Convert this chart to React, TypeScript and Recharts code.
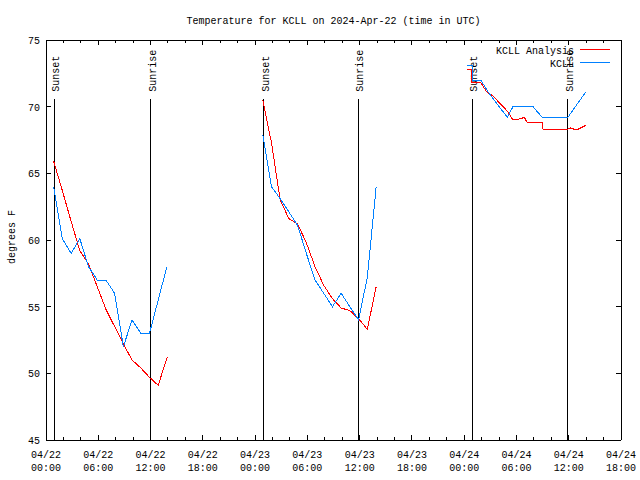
import React from 'react';
import { LineChart, Line, XAxis, YAxis, ReferenceLine, Legend } from 'recharts';

const FONT = '"Liberation Mono", "DejaVu Sans Mono", monospace';

const chartTitle = 'Temperature for KCLL on 2024-Apr-22 (time in UTC)';
const yAxisTitle = 'degrees F';
const seriesNames = ['KCLL Analysis', 'KCLL'];
const seriesColors = ['#ff0000', '#0080ff'];

// x values are hours since 2024-04-22 00:00 UTC
const xDomain = [0, 66];
const xMinorTicks = [0, 2, 4, 6, 8, 10, 12, 14, 16, 18, 20, 22, 24, 26, 28, 30, 32, 34, 36, 38, 40, 42, 44, 46, 48, 50, 52, 54, 56, 58, 60, 62, 64, 66];
const xTickDates = ['04/22', '04/22', '04/22', '04/22', '04/23', '04/23', '04/23', '04/23', '04/24', '04/24', '04/24', '04/24'];
const xTickTimes = ['00:00', '06:00', '12:00', '18:00', '00:00', '06:00', '12:00', '18:00', '00:00', '06:00', '12:00', '18:00'];
const yDomain = [45, 75];
const yTicks = [45, 50, 55, 60, 65, 70, 75];

const sunTimes = [0.92, 12.02, 24.99, 35.85, 48.93, 59.88];
const sunLabels = ['Sunset', 'Sunrise', 'Sunset', 'Sunrise', 'Sunset', 'Sunrise'];
const sunLineTop = 70.6;

const analysisTimes = [
  0.88, 1.88, 2.88, 3.88, 4.88, 5.88, 6.88, 7.88, 8.88, 9.88, 10.88, 11.88, 12.88, 13.9,
  19,
  24.88, 25.88, 26.88, 27.88, 28.88, 29.88, 30.88, 31.88, 32.88, 33.88, 34.88, 35.88, 36.88, 37.9,
  43,
  48.35, 48.8, 48.9, 49.9, 50.6, 51.3, 53.05, 53.6, 54.5, 54.9, 55.2, 56.95, 57.05, 59.6, 60.2, 60.9, 61.95,
];
const analysisTemps = [
  65.9, 63.7, 61.4, 59.2, 58.2, 56.5, 54.8, 53.5, 52.2, 51.0, 50.4, 49.7, 49.1, 51.2,
  null,
  70.5, 67.3, 63.0, 61.6, 61.2, 59.8, 58.0, 56.6, 55.6, 54.9, 54.7, 54.1, 53.3, 56.5,
  null,
  72.8, 72.8, 71.8, 71.8, 71.1, 70.8, 69.6, 69.0, 69.1, 69.2, 68.85, 68.85, 68.3, 68.25, 68.4, 68.25, 68.6,
];

const obsTimes = [
  0.88, 1.88, 2.88, 3.88, 4.88, 5.88, 6.88, 7.88, 8.88, 9.88, 10.88, 11.88, 12.88, 13.88,
  19,
  24.88, 25.88, 26.88, 27.88, 28.88, 29.88, 30.88, 31.88, 32.88, 33.88, 34.88, 35.88, 36.88, 37.9,
  43,
  48.35, 48.9, 49.0, 49.9, 50.75, 51.15, 52.95, 53.6, 55.9, 56.95, 59.9, 61.95,
];
const obsTemps = [
  64.0, 60.1, 59.0, 60.1, 58.0, 57.0, 57.0, 56.0, 52.0, 54.0, 53.0, 53.0, 55.5, 58.0,
  null,
  67.9, 64.0, 63.1, 62.1, 61.1, 59.0, 57.0, 56.0, 55.0, 56.0, 55.0, 54.0, 57.2, 64.0,
  null,
  73.1, 73.1, 72.0, 72.0, 71.1, 70.75, 69.2, 70.0, 70.0, 69.2, 69.2, 71.1,
];

const analysisData = analysisTimes.map((t, i) => ({ t, v: analysisTemps[i] }));
const obsData = obsTimes.map((t, i) => ({ t, v: obsTemps[i] }));

const MAJOR = 5;
const MINOR = 3;

const BottomTick = (props: any) => {
  const { x, y, payload } = props;
  const v = payload.value;
  const major = v % 6 === 0;
  const idx = v / 6;
  return (
    <g>
      <line x1={x} y1={y} x2={x} y2={y - (major ? MAJOR : MINOR)} stroke="#000" shapeRendering="crispEdges" />
      {major && (
        <text x={x} y={y + 18} textAnchor="middle" fontFamily={FONT} fontSize={10} fill="#000">
          {xTickDates[idx]}
        </text>
      )}
      {major && (
        <text x={x} y={y + 31} textAnchor="middle" fontFamily={FONT} fontSize={10} fill="#000">
          {xTickTimes[idx]}
        </text>
      )}
    </g>
  );
};

const TopTick = (props: any) => {
  const { x, y, payload } = props;
  const major = payload.value % 6 === 0;
  return <line x1={x} y1={y} x2={x} y2={y + (major ? MAJOR : MINOR)} stroke="#000" shapeRendering="crispEdges" />;
};

const LeftTick = (props: any) => {
  const { x, y, payload } = props;
  return (
    <g>
      <line x1={x} y1={y} x2={x + MAJOR} y2={y} stroke="#000" shapeRendering="crispEdges" />
      <text x={x - 6} y={y + 4} textAnchor="end" fontFamily={FONT} fontSize={10} fill="#000">
        {payload.value}
      </text>
    </g>
  );
};

const RightTick = (props: any) => {
  const { x, y } = props;
  return <line x1={x} y1={y} x2={x - MAJOR} y2={y} stroke="#000" shapeRendering="crispEdges" />;
};

const sunLabel = (text: string) => (props: any) => {
  const vb = props.viewBox || {};
  const lx = (vb.x ?? 0) + 5;
  const ly = (vb.y ?? 0) - 7;
  return (
    <text x={lx} y={ly} transform={`rotate(-90 ${lx} ${ly})`} textAnchor="start" fontFamily={FONT} fontSize={10} fill="#000">
      {text}
    </text>
  );
};

const renderLegend = (props: any) => {
  const items = props.payload || [];
  const ordered = seriesNames
    .map((name) => items.find((it: any) => it.value === name))
    .filter(Boolean);
  return (
    <svg width={150} height={32} style={{ display: 'block', overflow: 'visible' }}>
      {ordered.map((it: any, i: number) => (
        <g key={i}>
          <text x={104} y={15.5 + 13 * i} textAnchor="end" fontFamily={FONT} fontSize={10} fill="#000">
            {it.value}
          </text>
          <line x1={110} x2={140} y1={11.5 + 13 * i} y2={11.5 + 13 * i} stroke={it.color} shapeRendering="crispEdges" />
        </g>
      ))}
    </svg>
  );
};

const axisLineStyle = { stroke: '#000', shapeRendering: 'crispEdges' } as any;

export default function App() {
  return (
    <div style={{ position: 'absolute', left: 0, top: 0, width: 640, height: 480, background: '#fff' }}>
      <LineChart width={640} height={480} margin={{ top: 39, right: 18, bottom: 39, left: 45 }}>
        <XAxis
          xAxisId="b"
          orientation="bottom"
          type="number"
          dataKey="t"
          domain={xDomain}
          allowDataOverflow
          ticks={xMinorTicks}
          interval={0}
          height={1}
          tickSize={0}
          tickMargin={0}
          tickLine={false}
          axisLine={axisLineStyle}
          tick={(p: any) => <BottomTick {...p} />}
        />
        <XAxis
          xAxisId="t"
          orientation="top"
          type="number"
          dataKey="t"
          domain={xDomain}
          allowDataOverflow
          ticks={xMinorTicks}
          interval={0}
          height={1}
          tickSize={0}
          tickMargin={0}
          tickLine={false}
          axisLine={axisLineStyle}
          tick={(p: any) => <TopTick {...p} />}
        />
        <YAxis
          yAxisId="l"
          orientation="left"
          type="number"
          domain={yDomain}
          allowDataOverflow
          ticks={yTicks}
          interval={0}
          width={1}
          tickSize={0}
          tickMargin={0}
          tickLine={false}
          axisLine={axisLineStyle}
          tick={(p: any) => <LeftTick {...p} />}
        />
        <YAxis
          yAxisId="r"
          orientation="right"
          type="number"
          domain={yDomain}
          allowDataOverflow
          ticks={yTicks}
          interval={0}
          width={1}
          tickSize={0}
          tickMargin={0}
          tickLine={false}
          axisLine={axisLineStyle}
          tick={(p: any) => <RightTick {...p} />}
        />
        {sunTimes.map((t, i) => (
          <ReferenceLine
            key={'sun' + i}
            xAxisId="b"
            yAxisId="l"
            segment={[{ x: t, y: yDomain[0] }, { x: t, y: sunLineTop }]}
            stroke="#000"
            strokeWidth={1}
            shapeRendering="crispEdges"
            label={sunLabel(sunLabels[i])}
          />
        ))}
        <Line
          xAxisId="b"
          yAxisId="l"
          data={analysisData}
          dataKey="v"
          name={seriesNames[0]}
          type="linear"
          stroke={seriesColors[0]}
          strokeWidth={1}
          dot={false}
          activeDot={false}
          connectNulls={false}
          isAnimationActive={false}
          shapeRendering="crispEdges"
        />
        <Line
          xAxisId="b"
          yAxisId="l"
          data={obsData}
          dataKey="v"
          name={seriesNames[1]}
          type="linear"
          stroke={seriesColors[1]}
          strokeWidth={1}
          dot={false}
          activeDot={false}
          connectNulls={false}
          isAnimationActive={false}
          shapeRendering="crispEdges"
        />
        <Legend
          layout="vertical"
          align="center"
          verticalAlign="middle"
          content={renderLegend}
          wrapperStyle={{ position: 'absolute', left: 470, top: 38, width: 150, height: 32 }}
        />
      </LineChart>
      <svg width={640} height={480} style={{ position: 'absolute', left: 0, top: 0, pointerEvents: 'none' }}>
        <text x={333.5} y={24} textAnchor="middle" fontFamily={FONT} fontSize={10} fill="#000">
          {chartTitle}
        </text>
        <text x={14.5} y={237} transform="rotate(-90 14.5 237)" textAnchor="middle" fontFamily={FONT} fontSize={10} fill="#000">
          {yAxisTitle}
        </text>
      </svg>
    </div>
  );
}
